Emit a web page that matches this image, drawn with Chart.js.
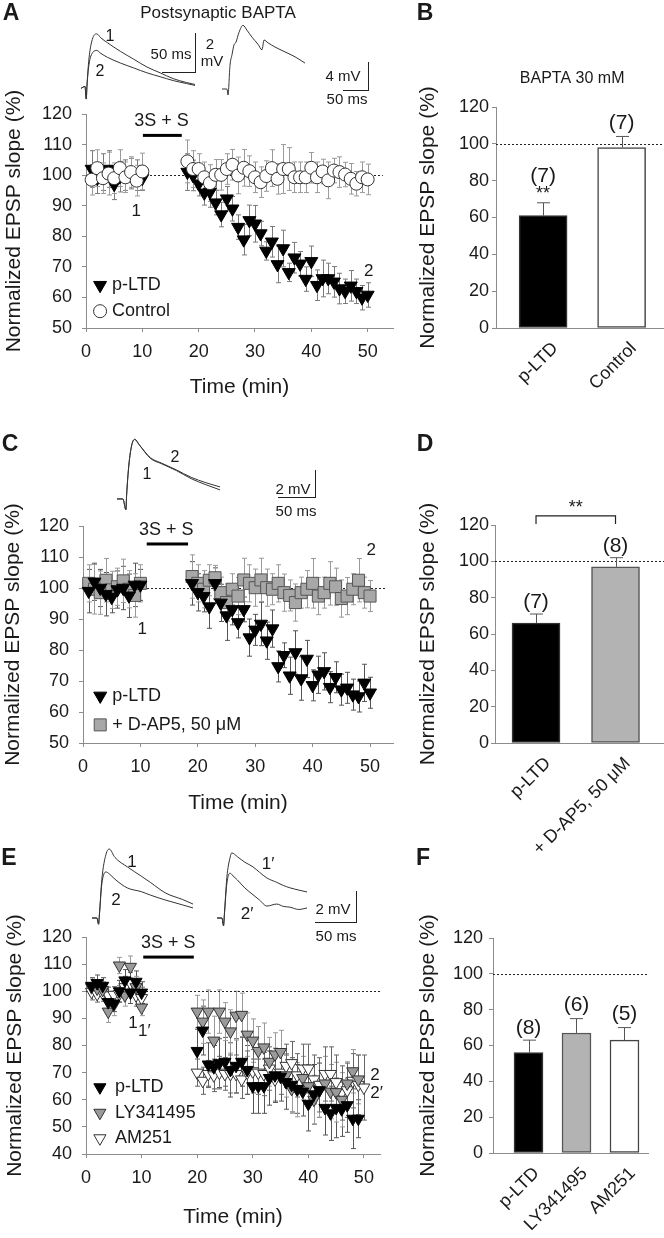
<!DOCTYPE html>
<html>
<head>
<meta charset="utf-8">
<script src="https://cdn.jsdelivr.net/npm/chart.js@4.4.0/dist/chart.umd.min.js"></script>
<style>
  body { margin: 0; background: #fff; }
  #fig { position: relative; width: 664px; height: 1238px; overflow: hidden; font-family: 'Liberation Sans', Arial, sans-serif; color: #1a1a1a; }
  #fig canvas { position: absolute; }
  .t { position: absolute; white-space: nowrap; line-height: 1; transform: translate(-50%, -50%); }
  .sb { position: absolute; border: 0 solid #222; border-right-width: 1.5px; border-bottom-width: 1.5px; }
</style>
</head>
<body>
<div id="fig"></div>
<script>
// ---- panel A: postsynaptic BAPTA ----
const timeA = [1,2,3,4,5,6,7,8,9,10,18,19,20,21,22,23,24,25,26,27,28,29,30,31,32,33,34,35,36,37,38,39,40,41,42,43,44,45,46,47,48,49,50];
const pltdA = [102,99,101,102,97,99.5,100,100.5,100,99,
  101,99.9,97.2,94.2,94.5,91,87.1,92.3,89,83,78.9,85.2,84.1,80.9,75.2,78.2,70.8,76,68.2,73,71,66,71.8,64,66.2,66.2,65.1,62.9,62,63.8,62,59.9,60.8];
const pltdAErr = [6,5,6,6,5,5,5,5,5,4,
  6,5,4,4,5,4,4,4,4,4,5,5,6,4,3,5,6,6,3,5,4,4,5,5,6,5,5,5,4,5,4,4,4];
const ctrlA = [98.5,102.3,99,100.5,99,102.3,99.3,101,98.2,101.2,
  104.5,102,102,99.3,97.4,100.1,100.1,102,103.4,99.9,102.4,101.3,99.3,97.7,99.7,102.3,98.8,102,102,99.3,99.3,99.3,102.4,99.3,101.2,98.3,101.5,101,100.2,98.8,97.2,99.3,98.6];
const ctrlAErr = [5,6,5,7,5,6,5,5,5,6,
  7,6,5,5,6,5,5,5,5,6,6,5,5,5,5,6,5,8,7,5,5,5,5,5,4,6,4,5,4,5,4,5,5];

// ---- panel C: D-AP5 ----
const timeC = [1,2,3,4,5,6,7,8,9,10,19,20,21,22,23,24,25,26,27,28,29,30,31,32,33,34,35,36,37,38,39,40,41,42,43,44,45,46,47,48,49,50];
const pltdC = [99,102,100,98,97,99.5,100,97.5,101,101,
  101.5,98.6,97.3,94,101.5,95.2,91.1,93.1,88.9,93.1,84,86.5,88.4,83,86.9,74.7,78.3,71.7,79.2,70.8,77.1,68.6,72,73.1,68,71.2,67.2,67.8,65.6,65,69.4,66.2];
const pltdCErr = [7,6,6,7,5,6,7,7,7,5,
  7,6,5,7,5,6,8,5,5,4,6,5,7,6,6,5,4,6,7,7,6,5,6,6,5,5,5,5,5,5,6,5];
const apvC = [101.5,99.6,98.5,102.5,99.4,100.4,102.3,99.6,97.6,101.5,
  103.7,101.5,99.6,102.5,103.3,98.5,95.3,99.6,97.4,102.6,101.5,100.1,102.6,100.1,99.6,101.5,98.5,97.6,95.3,98.5,99.6,101.5,97.4,98.5,101.5,100.4,96.6,97.4,99.6,102.5,98.5,97.4];
const apvCErr = [6,8,7,7,6,6,7,6,7,6,
  7,6,6,5,4,5,6,5,6,7,6,6,7,6,5,6,6,5,6,5,6,8,6,5,7,6,6,6,5,7,5,5];

// ---- panel E: LY341495 / AM251 ----
const timeE = [1,2,3,4,5,6,7,8,9,10,20,21,22,23,24,25,26,27,28,29,30,31,32,33,34,35,36,37,38,39,40,41,42,43,44,45,46,47,48,49];
const timeEam = [1,2,3,4,5,6,7,8,9,10,20,21,22,23,24,25,26,27,28,29,30,31,32,33,34,35,36,37,38,39,40,41,42,43,44,45,46,47,48,49,50];
const pltdE = [102,103,102,96,95.5,100,104,99.5,103.5,99.5,
  78,85.5,73,72,73.5,74,71,72.5,74,71,65,65,65,68,69,68.5,66.5,65.5,64,63,58.5,62,63.5,57,55,57,56.5,58,53,53];
const pltdEErr = [3,3,3,3,3,4,4,4,4,4,
  8,9,8,8,9,9,10,10,9,9,10,10,10,10,10,9,10,10,9,9,10,11,10,10,10,11,10,10,11,7];
const lyE = [101.5,101,100.5,92.5,95,109.5,98.5,109,101.5,94,
  92.5,88.8,92.5,81.8,92.5,88.8,85.2,91,91.3,84,81.8,78,79.3,74,76.7,77.6,69,64,63.7,68,65,60,63.5,66,63,62.8,60,66,70.5,67.5];
const lyEErr = [3,3,3,4,4,3,4,4,4,3,
  6,8,8,9,8,7,8,9,8,8,8,9,9,9,8,8,8,9,10,8,8,9,10,10,10,11,10,8,8,9];
const amE = [99.8,99,99.3,98.5,98.7,99,101.5,103,98.5,97.5,
  70,67,69.5,69,70,69.5,69.5,69.5,67.5,70,70.5,70,69.5,71.5,67.5,70,72.5,73.5,69,71.5,71.5,67.5,65.5,69.5,69.5,66.5,62.5,63.5,67,65.5,64.5];
const amEErr = [3,3,3,3,3,3,4,4,4,4,
  5,5,5,6,6,6,7,7,7,8,8,8,8,8,8,8,8,8,8,9,9,9,10,10,10,10,10,10,10,11,12];

// ---- bar panels ----
const catsB = ['p-LTD', 'Control'];
const valsB = [61, 98];
const errsB = [7, 6];
const catsD = ['p-LTD', '+ D-AP5, 50 \u03bcM'];
const valsD = [66, 97];
const errsD = [5, 5];
const catsF = ['p-LTD', 'LY341495', 'AM251'];
const valsF = [56, 67, 63];
const errsF = [7, 8, 7];

// ---- example EPSP traces (ms, mV) ----
const trA_t = [0,6,8,9,12,18,24,30,40,60,80,100,120,140,160,173];
const trA_1 = [0,0.1,-0.55,0.1,1.5,2.6,2.8,2.6,2.35,1.9,1.5,1.1,0.8,0.5,0.3,0.2];
const trA_2 = [0,0.1,-0.55,0.1,1.2,1.85,1.95,1.8,1.6,1.3,1.05,0.8,0.6,0.4,0.25,0.15];
const trInd_t = [0,10,12,16,20,24,28,34,42,50,60,72,80,84,92,106,126,146,166];
const trInd = [0,0,-0.86,3.4,4.9,6.3,6.7,8.1,9.1,8.4,7.4,6.4,5.6,7,6.6,6,5.3,4.6,3.7];
const trC_t = [0,8,12,13,16,20,24,30,45,60,80,100,120,139];
const trC_1 = [0,0,-0.8,0.3,2.5,4.0,4.4,4.0,3.0,2.6,2.1,1.5,1.05,0.67];
const trC_2 = [0,0,-0.8,0.3,2.5,4.0,4.4,4.0,3.05,2.65,2.15,1.6,1.2,0.89];
const trE_t = [0,6,8,9,12,17,21,28,43,60,71,90,110,123];
const trE_1 = [0,0,-0.4,0.2,2.5,4.1,4.45,3.9,3.3,2.7,2.3,1.6,1.2,0.9];
const trE_2 = [0,0,-0.4,0.2,2.2,2.97,2.85,2.5,1.94,1.7,1.48,1.15,0.85,0.65];
const trE2_t = [0,6,8,9,12,16,18,25,34,44,52,61,73,81,89,100,110];
const trE2_1 = [0,0,-0.5,0.2,2.6,3.9,4.2,3.95,3.6,3.3,2.95,2.58,2.3,2.1,1.95,1.8,1.68];
const trE2_2 = [0,0,-0.5,0.2,2.2,2.9,2.8,2.45,1.94,1.5,1.16,0.77,0.9,0.75,0.7,0.55,0.65];

const FONT = "'Liberation Sans', Arial, sans-serif";
const INK = '#1a1a1a';
const AXIS = '#8c8c8c';
Chart.defaults.font.family = FONT;
Chart.defaults.color = INK;
Chart.defaults.plugins.legend.display = false;
Chart.defaults.plugins.tooltip.enabled = false;

function pts(xs, ys) { return ys.map((y, i) => ({ x: xs[i], y })); }

function drawMarker(ctx, kind, x, y, r, fill, stroke) {
  ctx.beginPath();
  if (kind === 'tri') {
    for (let k = 0; k < 3; k++) {
      const a = Math.PI + k * 2 * Math.PI / 3;
      ctx.lineTo(x + Math.sin(a) * r, y - Math.cos(a) * r);
    }
    ctx.closePath();
  } else if (kind === 'circle') {
    ctx.arc(x, y, r, 0, 2 * Math.PI);
  } else {
    const s = r * Math.SQRT1_2;
    ctx.rect(x - s, y - s, 2 * s, 2 * s);
  }
  ctx.fillStyle = fill; ctx.fill();
  ctx.lineWidth = 1; ctx.strokeStyle = stroke; ctx.stroke();
}

function drawErr(chart, after) {
  const ctx = chart.ctx;
  chart.data.datasets.forEach((ds, i) => {
    if (!ds.errors || !!ds.errAfter !== after) return;
    const meta = chart.getDatasetMeta(i);
    const ys = chart.scales[meta.yAxisID];
    ctx.save();
    ctx.strokeStyle = ds.errColor; ctx.lineWidth = 1;
    meta.data.forEach((el, j) => {
      const e = ds.errors[j];
      if (e == null) return;
      const v = ds.data[j].y;
      const top = ys.getPixelForValue(v + e);
      const bot = ds.errUp ? el.y : ys.getPixelForValue(v - e);
      const x = Math.round(el.x) + 0.5, c = ds.capW;
      ctx.beginPath();
      ctx.moveTo(x, top); ctx.lineTo(x, bot);
      ctx.moveTo(x - c, top); ctx.lineTo(x + c, top);
      if (!ds.errUp) { ctx.moveTo(x - c, bot); ctx.lineTo(x + c, bot); }
      ctx.stroke();
    });
    ctx.restore();
  });
}

const errorBars = {
  id: 'errorBars',
  beforeDatasetsDraw(chart) { drawErr(chart, false); },
  afterDatasetsDraw(chart) { drawErr(chart, true); }
};

const refLine = {
  id: 'refLine',
  beforeDatasetsDraw(chart, args, o) {
    if (o.value == null) return;
    const { ctx, scales: { x, y } } = chart;
    const py = Math.round(y.getPixelForValue(o.value)) + 0.5;
    ctx.save();
    ctx.strokeStyle = '#222'; ctx.lineWidth = 1; ctx.setLineDash([2, 2]);
    ctx.beginPath();
    ctx.moveTo(x.getPixelForValue(o.from), py);
    ctx.lineTo(x.getPixelForValue(o.to), py);
    ctx.stroke();
    ctx.restore();
  }
};

const marks = {
  id: 'marks',
  afterDraw(chart, args, o) {
    const { ctx, scales: { x, y } } = chart;
    ctx.save();
    (o.bars || []).forEach(b => {
      ctx.fillStyle = '#000';
      const py = y.getPixelForValue(b.y);
      ctx.fillRect(x.getPixelForValue(b.x0), py - 1.5, x.getPixelForValue(b.x1) - x.getPixelForValue(b.x0), 3);
    });
    (o.brackets || []).forEach(b => {
      ctx.strokeStyle = '#222'; ctx.lineWidth = 1.2;
      const x0 = x.getPixelForValue(b.x0), x1 = x.getPixelForValue(b.x1);
      const y0 = y.getPixelForValue(b.y), y1 = y.getPixelForValue(b.y2);
      ctx.beginPath();
      ctx.moveTo(x0, y1); ctx.lineTo(x0, y0); ctx.lineTo(x1, y0); ctx.lineTo(x1, y1);
      ctx.stroke();
    });
    (o.notes || []).forEach(n => {
      ctx.font = `${n.size || 17}px ${FONT}`;
      ctx.fillStyle = INK; ctx.textAlign = 'center'; ctx.textBaseline = 'middle';
      ctx.fillText(n.text, x.getPixelForValue(n.x), y.getPixelForValue(n.y));
    });
    ctx.restore();
  }
};

const key = {
  id: 'key',
  afterDraw(chart, args, o) {
    if (o.x == null) return;
    const { ctx, scales: { x, y } } = chart;
    const x0 = x.getPixelForValue(o.x), y0 = y.getPixelForValue(o.y);
    ctx.save();
    chart.data.datasets.forEach((ds, i) => {
      const cy = y0 + i * o.dy;
      drawMarker(ctx, ds.marker, x0, cy, ds.pointRadius, ds.pointBackgroundColor, ds.pointBorderColor);
      ctx.font = `18px ${FONT}`; ctx.fillStyle = INK;
      ctx.textAlign = 'left'; ctx.textBaseline = 'middle';
      ctx.fillText(ds.label, x0 + o.gap, cy);
    });
    ctx.restore();
  }
};

Chart.register(errorBars, refLine, marks, key);

function place(box) {
  const c = document.createElement('canvas');
  c.width = box.w; c.height = box.h;
  c.style.left = box.x + 'px'; c.style.top = box.y + 'px';
  c.style.width = box.w + 'px'; c.style.height = box.h + 'px';
  document.getElementById('fig').appendChild(c);
  return c;
}

function yAxis(box, min, max, step, tickPad, titlePad) {
  return {
    min, max,
    ticks: { stepSize: step, padding: tickPad, font: { size: 18 }, color: INK },
    grid: { display: true, drawOnChartArea: false, drawTicks: true, tickLength: 4, color: AXIS },
    border: { display: true, color: AXIS, width: 1 },
    title: { display: true, text: 'Normalized EPSP slope (%)', font: { size: 21 }, color: INK, padding: { top: titlePad, bottom: 0 } },
    afterFit: s => { s.width = box.l - box.x; }
  };
}

function timeCourse(box, xmax, ymin, ymax, datasets, plugins, titlePad) {
  new Chart(place(box), {
    type: 'scatter',
    data: { datasets },
    options: {
      responsive: false, animation: false, events: [],
      layout: { padding: { left: 0, top: box.t - box.y, right: box.x + box.w - box.r, bottom: 0 } },
      scales: {
        x: {
          type: 'linear', min: 0, max: xmax,
          afterBuildTicks: s => { s.ticks = [0, 10, 20, 30, 40, 50].map(v => ({ value: v })); },
          ticks: { padding: 9, font: { size: 18 }, color: INK },
          grid: { display: true, drawOnChartArea: false, drawTicks: true, tickLength: 4, color: AXIS },
          border: { display: true, color: AXIS, width: 1 },
          title: { display: true, text: 'Time (min)', font: { size: 21 }, color: INK, padding: { top: 0, bottom: 0 } },
          afterFit: s => { s.height = box.y + box.h - box.b; }
        },
        y: yAxis(box, ymin, ymax, 10, 10, titlePad)
      },
      plugins
    }
  });
}

function barPanel(box, cats, vals, errs, fills, edges, barW, xmin, xmax, tickPad, labelShift, plugins) {
  new Chart(place(box), {
    type: 'bar',
    data: {
      datasets: [{
        data: vals.map((v, i) => ({ x: i + 1, y: v })),
        errors: errs, errUp: true, errAfter: true, errColor: '#555', capW: 6.5,
        backgroundColor: fills, borderColor: edges, borderWidth: 1.5, borderSkipped: false,
        barThickness: barW
      }]
    },
    options: {
      responsive: false, animation: false, events: [],
      layout: { padding: { left: 0, top: box.t - box.y, right: box.x + box.w - box.r, bottom: 0 } },
      scales: {
        x: {
          type: 'linear', min: xmin, max: xmax, offset: false,
          afterBuildTicks: s => { s.ticks = cats.map((c, i) => ({ value: i + 1 })); },
          ticks: { callback: (v, i) => cats[i], minRotation: 45, maxRotation: 45, autoSkip: false,
                   padding: 2, labelOffset: labelShift, font: { size: 18 }, color: INK },
          grid: { display: false },
          border: { display: true, color: AXIS, width: 1 },
          afterFit: s => { s.height = box.y + box.h - box.b; }
        },
        y: yAxis(box, 0, 120, 20, tickPad, 10.4)
      },
      plugins
    }
  });
}

function trace(box, tms, series, ymin, ymax) {
  new Chart(place(box), {
    type: 'line',
    data: {
      datasets: series.map(v => ({
        data: pts(tms, v), borderColor: '#333', borderWidth: 1, pointRadius: 0,
        cubicInterpolationMode: 'monotone', fill: false, clip: false
      }))
    },
    options: {
      responsive: false, animation: false, events: [],
      layout: { padding: 0 },
      scales: {
        x: { type: 'linear', display: false, min: 0, max: tms[tms.length - 1] },
        y: { display: false, min: ymin, max: ymax }
      }
    }
  });
}

const tri = (label, ys, xs, errs, fill, stroke, errColor, r, order) => ({
  label, data: pts(xs, ys), errors: errs, errColor, capW: 2.5, marker: 'tri',
  pointStyle: 'triangle', pointRotation: 180, pointRadius: r,
  pointBackgroundColor: fill, pointBorderColor: stroke, pointBorderWidth: 1, clip: false, order
});

// A
timeCourse({ x: 0, y: 0, w: 410, h: 400, l: 86, t: 114, r: 393, b: 328 }, 54.5, 50, 120, [
  tri('p-LTD', pltdA, timeA, pltdAErr, '#000', '#000', '#7a7a7a', 7.5, 1),
  { label: 'Control', data: pts(timeA, ctrlA), errors: ctrlAErr, errColor: '#9a9a9a', capW: 2.5, marker: 'circle',
    pointStyle: 'circle', pointRadius: 6.5, pointBackgroundColor: '#fff', pointBorderColor: '#333', pointBorderWidth: 1, clip: false, order: 0 }
], {
  refLine: { value: 100, from: 0, to: 52.7 },
  marks: {
    bars: [{ x0: 10.1, x1: 17, y: 113 }],
    notes: [{ text: '3S + S', x: 13.4, y: 117.7, size: 18 }, { text: '1', x: 8.9, y: 88.2 }, { text: '2', x: 50.2, y: 68.6 }]
  },
  key: { x: 2.5, y: 64, dy: 26, gap: 12 }
}, 1.4);

// B
barPanel({ x: 405, y: 0, w: 259, h: 400, l: 496, t: 107, r: 664, b: 328 }, catsB, valsB, errsB,
  ['#000', '#fff'], ['#333', '#444'], 48, 0.40, 2.54, 3, 12, {
  refLine: { value: 100, from: 0.40, to: 2.54 },
  marks: {
    notes: [
      { text: 'BAPTA 30 mM', x: 1.37, y: 135.2, size: 16 },
      { text: '(7)', x: 1, y: 82.5, size: 21 }, { text: '**', x: 1, y: 72.5, size: 18 },
      { text: '(7)', x: 2, y: 111.3, size: 21 }
    ]
  }
});

// C
timeCourse({ x: 0, y: 410, w: 410, h: 406, l: 83, t: 526, r: 393, b: 743 }, 54, 50, 120, [
  tri('p-LTD', pltdC, timeC, pltdCErr, '#000', '#000', '#555', 7.5, 0),
  { label: '+ D-AP5, 50 \u03bcM', data: pts(timeC, apvC), errors: apvCErr, errColor: '#9a9a9a', capW: 2.5, marker: 'rect',
    pointStyle: 'rect', pointRadius: 8.5, pointBackgroundColor: '#a8a8a8', pointBorderColor: '#555', pointBorderWidth: 1, clip: false, order: 1 }
], {
  refLine: { value: 100, from: 0, to: 52.7 },
  marks: {
    bars: [{ x0: 11.1, x1: 18.3, y: 114.2 }],
    notes: [{ text: '3S + S', x: 14.5, y: 118.6, size: 18 }, { text: '1', x: 10.3, y: 86.8 }, { text: '2', x: 50.2, y: 112.3 }]
  },
  key: { x: 3, y: 65.2, dy: 29, gap: 12 }
}, 0.4);

// D
barPanel({ x: 405, y: 410, w: 259, h: 460, l: 495, t: 525, r: 664, b: 743 }, catsD, valsD, errsD,
  ['#000', '#b3b3b3'], ['#333', '#555'], 48, 0.484, 2.61, 2, 12, {
  refLine: { value: 100, from: 0.484, to: 2.61 },
  marks: {
    brackets: [{ x0: 1, x1: 2, y: 125, y2: 120.6 }],
    notes: [
      { text: '**', x: 1.5, y: 129.5, size: 18 },
      { text: '(7)', x: 1, y: 77.6, size: 21 }, { text: '(8)', x: 2, y: 108.4, size: 21 }
    ]
  }
});

// E
timeCourse({ x: 0, y: 830, w: 410, h: 400, l: 86, t: 937, r: 380, b: 1154 }, 52.9, 40, 120, [
  tri('p-LTD', pltdE, timeE, pltdEErr, '#000', '#000', '#555', 7, 0),
  tri('LY341495', lyE, timeE, lyEErr, '#9a9a9a', '#333', '#999', 7, 1),
  tri('AM251', amE, timeEam, amEErr, '#fff', '#333', '#666', 7, 2)
], {
  refLine: { value: 100, from: 0, to: 53 },
  marks: {
    bars: [{ x0: 10.3, x1: 19.4, y: 112.6 }],
    notes: [
      { text: '3S + S', x: 14.8, y: 117.8, size: 18 },
      { text: '1', x: 8.45, y: 88.3 }, { text: '1\u2032', x: 10.5, y: 85.3 },
      { text: '2', x: 52, y: 69 }, { text: '2\u2032', x: 52.3, y: 62.4 }
    ]
  },
  key: { x: 2.5, y: 64.6, dy: 25.5, gap: 15 }
}, 2.4);

// F
barPanel({ x: 405, y: 830, w: 259, h: 408, l: 493, t: 938, r: 648, b: 1153 }, catsF, valsF, errsF,
  ['#000', '#b3b3b3', '#fff'], ['#333', '#555', '#444'], 29, 0.26, 3.49, 6, 8, {
  refLine: { value: 100, from: 0.26, to: 3.49 },
  marks: {
    notes: [
      { text: '(8)', x: 1, y: 69.8, size: 21 }, { text: '(6)', x: 2, y: 82.6, size: 21 },
      { text: '(5)', x: 3, y: 77.6, size: 21 }
    ]
  }
});

// example traces
trace({ x: 81, y: 31, w: 114, h: 70 }, trA_t, [trA_1, trA_2], -0.65, 2.95);
trace({ x: 222, y: 24, w: 83, h: 72 }, trInd_t, [trInd], -1.0, 9.29);
trace({ x: 117, y: 438, w: 103, h: 73 }, trC_t, [trC_1, trC_2], -0.89, 4.5);
trace({ x: 92, y: 847, w: 101, h: 80 }, trE_t, [trE_1, trE_2], -0.58, 4.58);
trace({ x: 217, y: 847, w: 90, h: 80 }, trE2_t, [trE2_1, trE2_2], -0.58, 4.58);

// text and scale bars
const fig = document.getElementById('fig');
const texts = [
  ['A', 11, 12, 23, 700], ['B', 425, 12, 23, 700], ['C', 10, 443, 23, 700],
  ['D', 425, 443, 23, 700], ['E', 9, 857, 23, 700], ['F', 423, 857, 23, 700],
  ['Postsynaptic BAPTA', 218, 12, 17, 400],
  ['50 ms', 171, 53, 15, 400], ['2', 210, 43, 15, 400], ['mV', 212, 60, 15, 400],
  ['4 mV', 343, 75, 15, 400], ['50 ms', 347, 98, 15, 400],
  ['2 mV', 293, 488, 15, 400], ['50 ms', 296, 510, 15, 400],
  ['2 mV', 333, 908, 15, 400], ['50 ms', 336, 935, 15, 400],
  ['1', 110, 36, 16, 400], ['2', 100, 71, 16, 400],
  ['1', 147, 474, 16, 400], ['2', 175, 457, 16, 400],
  ['1', 132, 861, 17, 400], ['2', 116, 899, 17, 400],
  ['1\u2032', 268, 863, 17, 400], ['2\u2032', 247, 913, 17, 400]
];
texts.forEach(([s, x, y, size, w]) => {
  const d = document.createElement('div');
  d.className = 't'; d.textContent = s;
  d.style.left = x + 'px'; d.style.top = y + 'px';
  d.style.fontSize = size + 'px'; d.style.fontWeight = w;
  fig.appendChild(d);
});
const scaleBars = [[162, 33, 33, 39], [343, 62, 25, 28], [278, 470, 37, 27], [315, 891, 41, 31]];
scaleBars.forEach(([x, y, w, h]) => {
  const d = document.createElement('div');
  d.className = 'sb';
  d.style.left = x + 'px'; d.style.top = y + 'px';
  d.style.width = w + 'px'; d.style.height = h + 'px';
  fig.appendChild(d);
});
</script>
</body>
</html>
